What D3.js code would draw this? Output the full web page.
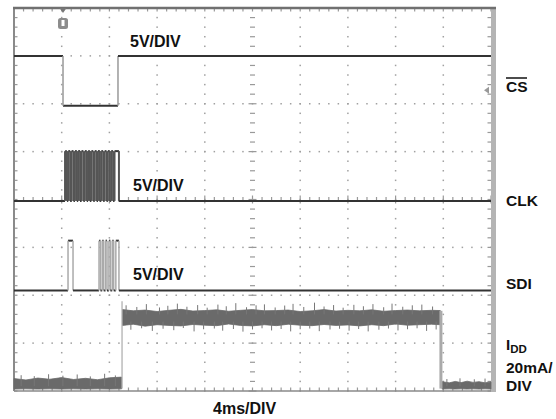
<!DOCTYPE html>
<html>
<head>
<meta charset="utf-8">
<script src="https://cdn.jsdelivr.net/npm/d3@7/dist/d3.min.js"></script>
<style>
body { margin: 0; background: #fff; }
text { font-family: "Liberation Sans", Arial, sans-serif; font-weight: bold; fill: #111; }
</style>
</head>
<body>
<svg id="scope" width="556" height="419"></svg>
<script>
// time base: 4ms/div, 10 divisions
var timeDomain = [0, 40];
var divDomain = [-4, 4];
var logicHigh = 5.2; // V, logic level on the 5V/div channels

// digital channels: ground offset in divisions from the centre line
var csGround = 1.96, clkGround = -0.03, sdiGround = -1.9;
var csLow = [[4.11, 8.72]];
var clkPulses = [[4.28, 4.44], [4.55, 4.71], [4.83, 4.99], [5.11, 5.27], [5.38, 5.54], [5.66, 5.82],
  [5.94, 6.10], [6.21, 6.37], [6.49, 6.65], [6.77, 6.93], [7.04, 7.20], [7.32, 7.48],
  [7.60, 7.76], [7.87, 8.03], [8.15, 8.31], [8.43, 8.80]];
var sdiPulses = [[4.53, 4.95], [7.13, 7.25], [7.40, 7.52], [7.68, 7.80], [7.96, 8.08], [8.24, 8.36], [8.54, 8.80]];

// supply current, 20mA/div, ground at bottom of screen
var iddGround = -4;
var iddEdges = [9.06, 35.8];
// [t, low, high] envelope of the noisy trace, mA
var iddIdleLeft = [[0, 0.8, 5.2], [1, 0.9, 4.6], [2, 0.8, 5.4], [3, 0.9, 4.9], [4, 0.8, 5.6], [5, 0.9, 4.8],
  [6, 0.8, 5.3], [7, 0.9, 4.7], [8, 0.8, 5.5], [9.02, 0.9, 5.8]];
var iddActive = [[9.1, 27.4, 34.0], [10, 27.9, 33.5], [11, 27.1, 33.8], [12, 27.7, 33.2], [13, 27.4, 33.7],
  [14, 27.2, 34.1], [15, 27.8, 33.4], [16, 27.5, 33.6], [17, 27.3, 33.9], [18, 28.0, 33.3],
  [19, 27.4, 33.7], [20, 27.2, 34.0], [21, 27.7, 33.5], [22, 27.3, 33.6], [23, 27.9, 33.8],
  [24, 27.5, 33.2], [25, 27.3, 33.5], [26, 27.8, 34.0], [27, 27.4, 33.4], [28, 27.6, 33.7],
  [29, 27.2, 33.5], [30, 27.7, 33.9], [31, 27.3, 33.3], [32, 28.0, 33.6], [33, 27.5, 33.8],
  [34, 27.7, 33.5], [35, 27.9, 33.7], [35.75, 27.7, 33.6]];
var iddIdleRight = [[35.9, 0.8, 3.9], [36.5, 0.9, 3.4], [37, 0.8, 4.0], [37.5, 0.9, 3.5], [38, 0.8, 4.1],
  [38.5, 0.9, 3.6], [39, 0.8, 3.9], [39.5, 0.9, 3.4], [40, 0.8, 3.8]];
// noise spikes on the active current, [t, mA]
var iddSpikesUp = [[9.4, 35.8], [10.3, 35.1], [11.1, 36.3], [12.2, 34.9], [12.9, 35.6], [13.7, 36.5],
  [14.5, 35.2], [15.4, 35.9], [16.2, 34.8], [17.1, 36.1], [17.8, 35.4], [18.6, 36.7], [19.5, 35.0],
  [20.3, 35.8], [21.0, 36.2], [21.9, 34.9], [22.7, 35.7], [23.4, 36.4], [24.3, 35.1], [25.2, 36.9],
  [26.0, 35.3], [26.8, 35.9], [27.6, 34.8], [28.5, 36.0], [29.3, 35.4], [30.1, 36.3], [31.0, 35.0],
  [31.7, 36.5], [32.6, 35.2], [33.4, 35.8], [34.2, 36.1], [35.1, 35.3]];
var iddSpikesDown = [[9.8, 25.6], [10.7, 26.2], [11.6, 25.1], [12.5, 26.0], [13.4, 25.4], [14.2, 26.3],
  [15.1, 24.9], [15.9, 25.8], [16.8, 26.1], [17.5, 25.2], [18.4, 25.9], [19.2, 24.8], [20.0, 25.7],
  [20.8, 26.2], [21.6, 25.3], [22.4, 25.9], [23.2, 24.9], [24.0, 25.8], [24.8, 26.1], [25.6, 25.0],
  [26.5, 25.7], [27.3, 26.0], [28.1, 25.2], [28.9, 25.9], [29.7, 24.9], [30.6, 25.6], [31.4, 26.1],
  [32.2, 25.3], [33.0, 25.8], [33.8, 26.2], [34.6, 25.1], [35.4, 25.7]];
var iddIdleSpikes = [[0.6, 6.6], [1.7, 6.2], [2.9, 7.0], [4.1, 6.4], [5.3, 6.9], [6.4, 6.1], [7.6, 7.2], [8.5, 6.5],
  [36.3, 5.0], [37.4, 5.3], [38.6, 4.9], [39.5, 5.2]];

var triggerTime = 4.11;

var plotL = 14, plotR = 491, plotT = 8, plotB = 391;
var x = d3.scaleLinear().domain(timeDomain).range([plotL, plotR]);
var y = d3.scaleLinear().domain(divDomain).range([plotB, plotT]);

var svg = d3.select("#scope");
var grid = svg.append("g");

// dotted graticule, a dot every fifth of a division
d3.range(1, 10).forEach(function(k){
	if (k == 5) return;
	d3.range(0, 40.01, 1).forEach(function(d){
		grid.append("rect").attr("x", x(k*4) - 0.75).attr("y", y(-4 + d/5) - 0.75)
			.attr("width", 1.5).attr("height", 1.5).attr("fill", "#a0a0a0");
	});
});
d3.range(-3, 4).forEach(function(j){
	if (j == 0) return;
	d3.range(0, 50.01, 1).forEach(function(d){
		grid.append("rect").attr("x", x(d*0.8) - 0.75).attr("y", y(j) - 0.75)
			.attr("width", 1.5).attr("height", 1.5).attr("fill", "#a0a0a0");
	});
});
// centre cross and frame with minor ticks
d3.range(0, 50.01, 1).forEach(function(d){
	var len = (d % 5 == 0) ? 4 : 2.5;
	grid.append("line").attr("x1", x(d*0.8)).attr("x2", x(d*0.8))
		.attr("y1", y(0) - len).attr("y2", y(0) + len).attr("stroke", "#999").attr("stroke-width", 1.2);
	grid.append("line").attr("x1", x(d*0.8)).attr("x2", x(d*0.8))
		.attr("y1", plotT).attr("y2", plotT + 3.5).attr("stroke", "#999").attr("stroke-width", 1.2);
	grid.append("line").attr("x1", x(d*0.8)).attr("x2", x(d*0.8))
		.attr("y1", plotB).attr("y2", plotB - 3.5).attr("stroke", "#999").attr("stroke-width", 1.2);
});
d3.range(0, 40.01, 1).forEach(function(d){
	var v = -4 + d/5;
	var len = (d % 5 == 0) ? 4 : 2.5;
	grid.append("line").attr("x1", x(20) - len).attr("x2", x(20) + len)
		.attr("y1", y(v)).attr("y2", y(v)).attr("stroke", "#999").attr("stroke-width", 1.2);
	grid.append("line").attr("x1", plotL).attr("x2", plotL + 3.5)
		.attr("y1", y(v)).attr("y2", y(v)).attr("stroke", "#999").attr("stroke-width", 1.2);
	grid.append("line").attr("x1", plotR).attr("x2", plotR - 3.5)
		.attr("y1", y(v)).attr("y2", y(v)).attr("stroke", "#999").attr("stroke-width", 1.2);
});

// frame
svg.append("line").attr("x1", plotL).attr("x2", plotR).attr("y1", plotB).attr("y2", plotB)
	.attr("stroke", "#8a8a8a").attr("stroke-width", 1.5);
svg.append("line").attr("x1", plotL).attr("x2", plotL).attr("y1", plotT).attr("y2", plotB)
	.attr("stroke", "#8a8a8a").attr("stroke-width", 2);
svg.append("rect").attr("x", plotR).attr("y", plotT - 1).attr("width", 5).attr("height", plotB - plotT + 2)
	.attr("fill", "#b4b4b4");
svg.append("line").attr("x1", plotL - 1).attr("x2", plotR + 5).attr("y1", plotT).attr("y2", plotT)
	.attr("stroke", "#707070").attr("stroke-width", 2.5);

// digital traces: flat levels dark, edges light
var traces = svg.append("g");
function levelY(ground, v){ return y(ground + v/5); }
function drawLogic(pulses, ground, idle, active, edgeColor, edgeWidth){
	var t0 = timeDomain[0];
	pulses.forEach(function(p){
		traces.append("line").attr("x1", x(t0)).attr("x2", x(p[0]))
			.attr("y1", levelY(ground, idle)).attr("y2", levelY(ground, idle))
			.attr("stroke", "#333").attr("stroke-width", 2);
		traces.append("line").attr("x1", x(p[0])).attr("x2", x(p[1]))
			.attr("y1", levelY(ground, active)).attr("y2", levelY(ground, active))
			.attr("stroke", "#333").attr("stroke-width", 2);
		[p[0], p[1]].forEach(function(t){
			traces.append("line").attr("x1", x(t)).attr("x2", x(t))
				.attr("y1", levelY(ground, idle)).attr("y2", levelY(ground, active))
				.attr("stroke", edgeColor).attr("stroke-width", edgeWidth);
		});
		t0 = p[1];
	});
	traces.append("line").attr("x1", x(t0)).attr("x2", x(timeDomain[1]))
		.attr("y1", levelY(ground, idle)).attr("y2", levelY(ground, idle))
		.attr("stroke", "#333").attr("stroke-width", 2);
}
drawLogic(csLow, csGround, logicHigh, 0, "#999", 1.5);
drawLogic(clkPulses, clkGround, 0, logicHigh, "#555", 2);
drawLogic(sdiPulses, sdiGround, 0, logicHigh, "#aaa", 1.5);

// supply current
function iddY(mA){ return y(iddGround + mA/20); }
var band = d3.area().x(function(d){ return x(d[0]); })
	.y0(function(d){ return iddY(d[1]); }).y1(function(d){ return iddY(d[2]); });
[iddIdleLeft, iddActive, iddIdleRight].forEach(function(seg){
	traces.append("path").attr("d", band(seg)).attr("fill", "#6a6a6a").attr("stroke", "#6a6a6a").attr("stroke-width", 0.8);
});
iddSpikesUp.forEach(function(s){
	traces.append("line").attr("x1", x(s[0])).attr("x2", x(s[0]))
		.attr("y1", iddY(32)).attr("y2", iddY(s[1])).attr("stroke", "#777").attr("stroke-width", 1);
});
iddSpikesDown.forEach(function(s){
	traces.append("line").attr("x1", x(s[0])).attr("x2", x(s[0]))
		.attr("y1", iddY(29)).attr("y2", iddY(s[1])).attr("stroke", "#777").attr("stroke-width", 1);
});
iddIdleSpikes.forEach(function(s){
	traces.append("line").attr("x1", x(s[0])).attr("x2", x(s[0]))
		.attr("y1", iddY(2)).attr("y2", iddY(s[1])).attr("stroke", "#777").attr("stroke-width", 1);
});
traces.append("line").attr("x1", x(iddEdges[0])).attr("x2", x(iddEdges[0]))
	.attr("y1", iddY(1)).attr("y2", iddY(37.5)).attr("stroke", "#aaa").attr("stroke-width", 1.2);
traces.append("line").attr("x1", x(iddEdges[1])).attr("x2", x(iddEdges[1]))
	.attr("y1", iddY(1)).attr("y2", iddY(33.5)).attr("stroke", "#aaa").attr("stroke-width", 3);

// trigger marker and channel marker
var tx = x(triggerTime);
svg.append("path").attr("d", "M" + (tx - 3.5) + "," + plotT + "L" + (tx + 3.5) + "," + plotT + "L" + tx + "," + (plotT + 5) + "Z")
	.attr("fill", "#777");
svg.append("rect").attr("x", tx - 5).attr("y", 18).attr("width", 10).attr("height", 11).attr("rx", 2.5)
	.attr("fill", "#8c8c8c");
svg.append("rect").attr("x", tx - 1.5).attr("y", 20).attr("width", 3).attr("height", 6).attr("fill", "#fff");
svg.append("path").attr("d", "M" + (plotR - 2) + "," + (y(csGround) - 19) + "l-5,3.5l5,3.5Z").attr("fill", "#999");

// labels
svg.append("text").attr("x", 130).attr("y", 47).style("font-size", "16px").text("5V/DIV");
svg.append("text").attr("x", 133).attr("y", 191).style("font-size", "16px").text("5V/DIV");
svg.append("text").attr("x", 133).attr("y", 280).style("font-size", "16px").text("5V/DIV");
svg.append("text").attr("x", 213).attr("y", 414).style("font-size", "16px").text("4ms/DIV");

svg.append("text").attr("x", 506).attr("y", 92).style("font-size", "15.5px").text("CS");
svg.append("line").attr("x1", 506).attr("x2", 527).attr("y1", 78).attr("y2", 78)
	.attr("stroke", "#111").attr("stroke-width", 1.5);
svg.append("text").attr("x", 506).attr("y", 206).style("font-size", "15.5px").text("CLK");
svg.append("text").attr("x", 506).attr("y", 289).style("font-size", "15.5px").text("SDI");
var idd = svg.append("text").attr("x", 506).attr("y", 350).style("font-size", "15px");
idd.append("tspan").text("I");
idd.append("tspan").attr("dy", 3).style("font-size", "11.5px").text("DD");
svg.append("text").attr("x", 506).attr("y", 373).style("font-size", "15.5px").text("20mA/");
svg.append("text").attr("x", 506).attr("y", 391).style("font-size", "15.5px").text("DIV");
</script>
</body>
</html>
